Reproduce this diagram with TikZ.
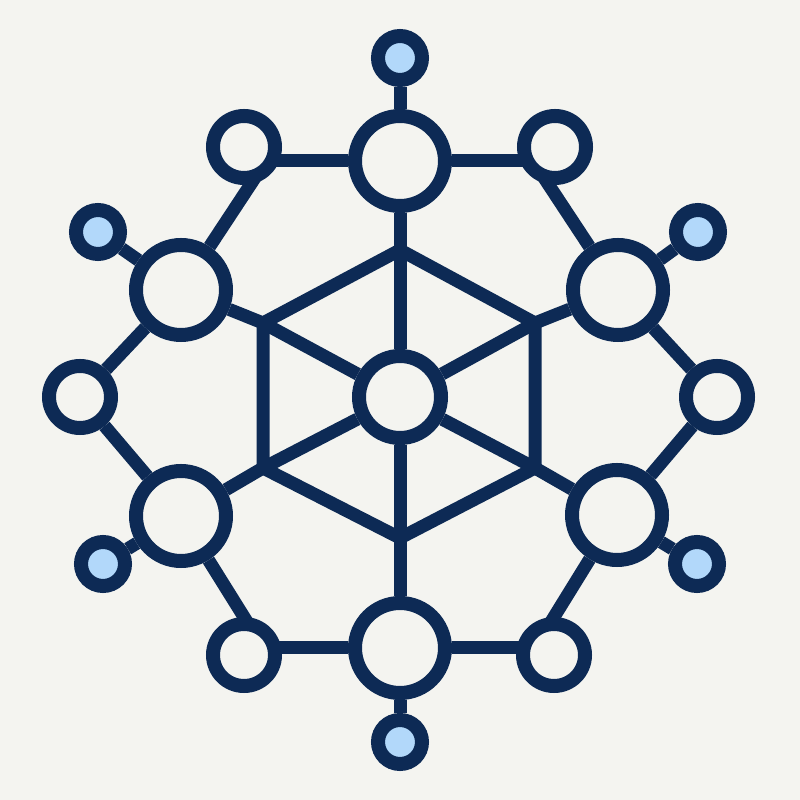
\documentclass[tikz,border=0pt]{standalone}
\usepackage{tikz}
\usetikzlibrary{backgrounds}

\definecolor{navy}{RGB}{13,42,85}
\definecolor{paleblue}{RGB}{178,216,250}
\definecolor{paper}{RGB}{244,244,240}

\begin{document}
\begin{tikzpicture}[
core/.style={
  draw=navy,
  circle,
  line width=0.14cm,
  fill=paper,
  inner sep=0pt,
  minimum size=0.82cm
},
ring/.style={
  core,
  minimum size=0.90cm
},
leaf/.style={
  core,
  minimum size=0.62cm
},
bead/.style={
  core,
  fill=paleblue,
  minimum size=0.44cm
},
link/.style={
  draw=navy,
  line width=0.13cm
}
]
\useasboundingbox (-4,-4.03) rectangle (4,3.97);

% centre and inner hexagon
\node[core] (hub) at (0,0) {};
\coordinate (h1) at (0,1.47);
\coordinate (h2) at (1.35,0.74);
\coordinate (h3) at (1.35,-0.71);
\coordinate (h4) at (0,-1.41);
\coordinate (h5) at (-1.37,-0.71);
\coordinate (h6) at (-1.37,0.74);

% large nodes
\node[ring] (top) at (0,2.36) {};
\node[ring] (bot) at (0,-2.51) {};
\node[ring] (ul) at (-2.19,1.07) {};
\node[ring] (ur) at (2.18,1.07) {};
\node[ring] (ll) at (-2.19,-1.19) {};
\node[ring] (lr) at (2.17,-1.18) {};

% small white nodes
\node[leaf] (stl) at (-1.56,2.5) {};
\node[leaf] (str) at (1.55,2.5) {};
\node[leaf] (sbl) at (-1.56,-2.58) {};
\node[leaf] (sbr) at (1.54,-2.58) {};
\node[leaf] (sl) at (-3.2,0) {};
\node[leaf] (sr) at (3.17,0) {};

% blue tips
\node[bead] (btop) at (0,3.39) {};
\node[bead] (bbot) at (0,-3.45) {};
\node[bead] (bul) at (-3.02,1.65) {};
\node[bead] (bur) at (2.98,1.65) {};
\node[bead] (bll) at (-2.97,-1.67) {};
\node[bead] (blr) at (2.97,-1.67) {};

\begin{scope}[on background layer]
\fill[paper] (-4,-4.03) rectangle (4,3.97);
\draw[link] (h1) -- (h2) -- (h3) -- (h4) -- (h5) -- (h6) -- cycle;
\foreach \v in {h1,h2,h3,h4,h5,h6}
  \draw[link] (hub) -- (\v);
\draw[link] (h1) -- (top);
\draw[link] (h2) -- (ur);
\draw[link] (h3) -- (lr);
\draw[link] (h4) -- (bot);
\draw[link] (h5) -- (ll);
\draw[link] (h6) -- (ul);

\draw[link] (btop) -- (top);
\draw[link] (bbot) -- (bot);
\draw[link] (bul) -- (ul);
\draw[link] (bur) -- (ur);
\draw[link] (bll) -- (ll);
\draw[link] (blr) -- (lr);

% outer ring
\draw[link] (top) -- (top -| stl);
\draw[link] (top) -- (top -| str);
\draw[link] (bot) -- (bot -| sbl);
\draw[link] (bot) -- (bot -| sbr);
\draw[link,shorten >=-0.12cm] (ul) -- (stl.-80);
\draw[link,shorten >=-0.12cm] (ur) -- (str.-100);
\draw[link,shorten >=-0.12cm] (ll) -- (sbl.north);
\draw[link,shorten >=-0.12cm] (lr) -- (sbr.north);
\draw[link] (ul) -- (sl) -- (ll);
\draw[link] (ur) -- (sr) -- (lr);
\end{scope}
\end{tikzpicture}
\end{document}
